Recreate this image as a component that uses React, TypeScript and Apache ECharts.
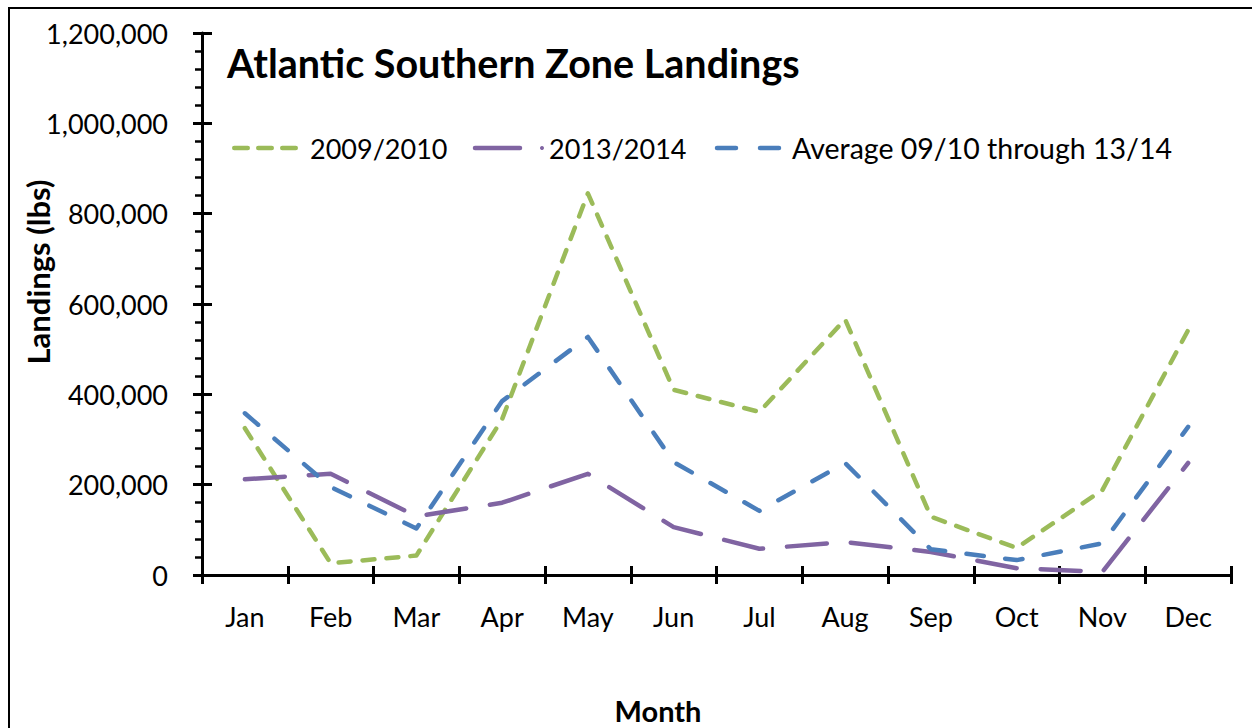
import React, { useEffect, useRef } from "react";
import * as echarts from "echarts";

const months = ["Jan", "Feb", "Mar", "Apr", "May", "Jun", "Jul", "Aug", "Sep", "Oct", "Nov", "Dec"];
const season0910 = [325000, 26000, 43000, 345000, 845000, 410000, 361000, 566000, 129000, 60000, 188000, 542000];
const season1314 = [212000, 224000, 130000, 160000, 224000, 106000, 58000, 73000, 51000, 15000, 7000, 248000];
const average = [358000, 195000, 103000, 385000, 527000, 250000, 142000, 248000, 57000, 33000, 70000, 328000];
const seriesNames = ["2009/2010", "2013/2014", "Average 09/10 through 13/14"];
const colors = ["#9BBB59", "#8064A2", "#4A7EBB"];

const FONT = "Lato";

export default function App() {
  const ref = useRef<HTMLDivElement>(null);
  useEffect(() => {
    if (!ref.current) return;
    const chart = echarts.init(ref.current, null, { renderer: "svg" });
    const black = "#000";
    const tickStyle = { color: black, width: 3 };
    const option: any = {
      animation: false,
      backgroundColor: "#fff",
      grid: { left: 202, top: 33, right: 21, bottom: 153 },
      xAxis: [
        {
          type: "category",
          data: months,
          boundaryGap: true,
          axisLine: { lineStyle: { color: black, width: 3 } },
          axisTick: { show: true, length: 9, lineStyle: tickStyle },
          axisLabel: { color: black, fontFamily: FONT, fontSize: 27, margin: 28 },
          splitLine: { show: false },
        },
        {
          type: "category",
          data: months,
          boundaryGap: true,
          position: "bottom",
          axisLine: { show: false },
          axisTick: { show: true, inside: true, length: 9, lineStyle: tickStyle },
          axisLabel: { show: false },
          splitLine: { show: false },
        },
      ],
      yAxis: [
        {
          type: "value",
          min: 0,
          max: 1200000,
          interval: 200000,
          axisLine: { show: true, lineStyle: { color: black, width: 3 } },
          axisTick: { show: true, length: 9, lineStyle: tickStyle },
          minorTick: { show: true, splitNumber: 5, length: 7, lineStyle: { color: black, width: 2.5 } },
          axisLabel: {
            color: black,
            fontFamily: FONT,
            fontSize: 27,
            margin: 34,
            formatter: (v: number) => v.toLocaleString("en-US"),
          },
          splitLine: { show: false },
        },
        {
          type: "value",
          min: 0,
          max: 1200000,
          interval: 200000,
          position: "left",
          axisLine: { show: false },
          axisTick: { show: true, inside: true, length: 10, lineStyle: tickStyle },
          axisLabel: { show: false },
          splitLine: { show: false },
        },
      ],
      series: [
        {
          name: seriesNames[0],
          type: "line",
          data: season0910,
          symbol: "none",
          lineStyle: { color: colors[0], width: 4.5, type: [12, 12], cap: "round", join: "round" },
        },
        {
          name: seriesNames[1],
          type: "line",
          data: season1314,
          symbol: "none",
          lineStyle: { color: colors[1], width: 4.5, type: [40, 24], cap: "round", join: "round" },
        },
        {
          name: seriesNames[2],
          type: "line",
          data: average,
          symbol: "none",
          lineStyle: { color: colors[2], width: 4.5, type: [17.5, 21.5], cap: "round", join: "round" },
        },
      ],
      graphic: [
        { type: "line", shape: { x1: 8, y1: 8, x2: 1252, y2: 8 }, style: { stroke: black, lineWidth: 2 } },
        { type: "line", shape: { x1: 9, y1: 7, x2: 9, y2: 728 }, style: { stroke: black, lineWidth: 2 } },
        {
          type: "text",
          x: 227,
          y: 62,
          style: {
            text: "Atlantic Southern Zone Landings",
            font: `bold 39.5px ${FONT}`,
            fill: black,
            textAlign: "left",
            textVerticalAlign: "middle",
          },
        },
        {
          type: "text",
          x: 38,
          y: 272,
          rotation: Math.PI / 2,
          style: {
            text: "Landings (lbs)",
            font: `bold 31px ${FONT}`,
            fill: black,
            textAlign: "center",
            textVerticalAlign: "middle",
          },
        },
        {
          type: "text",
          x: 658,
          y: 710,
          style: {
            text: "Month",
            font: `bold 29px ${FONT}`,
            fill: black,
            textAlign: "center",
            textVerticalAlign: "middle",
          },
        },
        // legend
        {
          type: "line",
          shape: { x1: 234.25, y1: 148, x2: 295.75, y2: 148 },
          style: { stroke: colors[0], lineWidth: 4.5, lineDash: [13.5, 10.5], lineCap: "round" },
        },
        {
          type: "text",
          x: 310,
          y: 148,
          style: { text: seriesNames[0], font: `27px ${FONT}`, fill: black, textVerticalAlign: "middle" },
        },
        {
          type: "line",
          shape: { x1: 475, y1: 148, x2: 520, y2: 148 },
          style: { stroke: colors[1], lineWidth: 4.5, lineCap: "round" },
        },
        { type: "circle", shape: { cx: 542, cy: 148, r: 2 }, style: { fill: colors[1] } },
        {
          type: "text",
          x: 549,
          y: 148,
          style: { text: seriesNames[1], font: `27px ${FONT}`, fill: black, textVerticalAlign: "middle" },
        },
        {
          type: "line",
          shape: { x1: 717, y1: 148, x2: 779, y2: 148 },
          style: { stroke: colors[2], lineWidth: 4.5, lineDash: [19, 24], lineCap: "round" },
        },
        {
          type: "text",
          x: 792,
          y: 148,
          style: { text: seriesNames[2], font: `28.5px ${FONT}`, fill: black, textVerticalAlign: "middle" },
        },
      ],
    };
    chart.setOption(option);
    return () => chart.dispose();
  }, []);
  return (
    <div
      ref={ref}
      style={{ position: "fixed", left: 0, top: 0, width: 1252, height: 728, background: "#fff" }}
    />
  );
}
